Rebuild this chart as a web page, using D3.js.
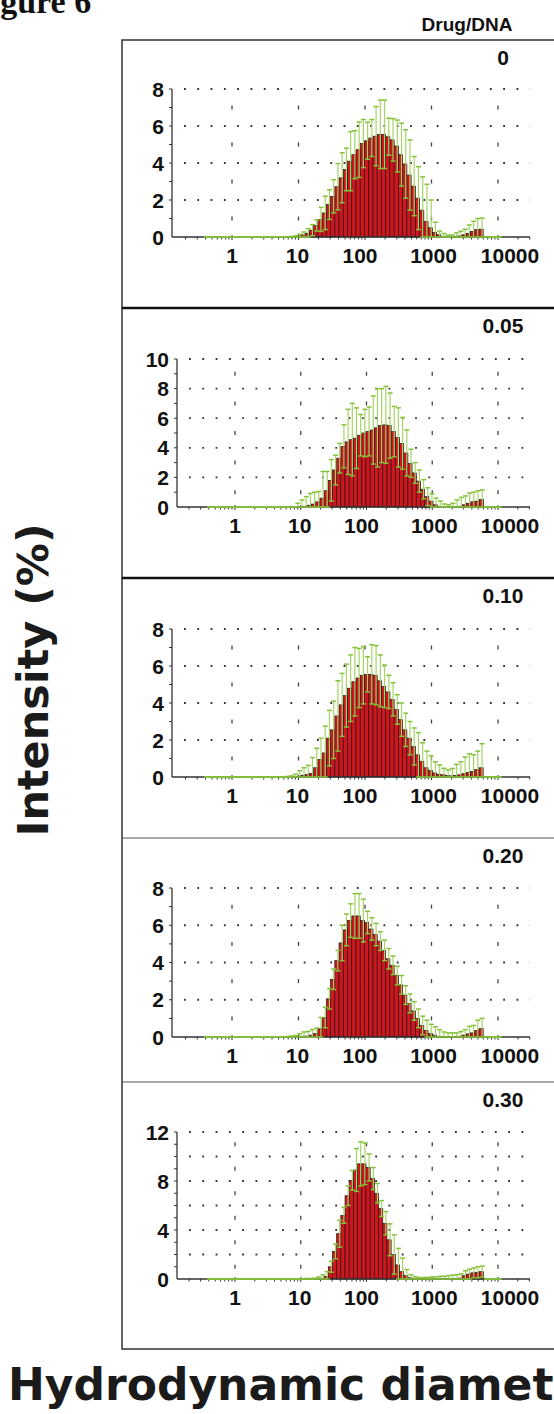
<!DOCTYPE html>
<html>
<head>
<meta charset="utf-8">
<script src="https://cdn.jsdelivr.net/npm/d3@7/dist/d3.min.js"></script>
<style>
body { margin: 0; background: #fff; overflow: hidden; }
text { font-family: "Liberation Sans", Arial, sans-serif; font-weight: bold; }
</style>
</head>
<body>
<svg id="fig" width="554" height="1414"></svg>
<script>
// size classes of the instrument (nm), 70 log-spaced bins
const sizes = [0.4, 0.4632, 0.5365, 0.6213, 0.7195, 0.8332, 0.9649, 1.117, 1.294, 1.499,
  1.736, 2.010, 2.328, 2.696, 3.122, 3.615, 4.187, 4.849, 5.615, 6.503,
  7.531, 8.721, 10.10, 11.70, 13.54, 15.69, 18.17, 21.04, 24.36, 28.21,
  32.67, 37.84, 43.82, 50.75, 58.77, 68.06, 78.82, 91.28, 105.7, 122.4,
  141.8, 164.2, 190.1, 220.2, 255.0, 295.3, 342.0, 396.1, 458.7, 531.2,
  615.1, 712.4, 825.0, 955.4, 1106, 1281, 1484, 1718, 1990, 2305,
  2669, 3091, 3580, 4145, 4801, 5560, 6439, 7456, 8635, 10000];

const ratios = ["0", "0.05", "0.10", "0.20", "0.30"];
const yMaxes = [8, 10, 8, 8, 12];
const yLabelSteps = [2, 2, 2, 2, 4];
const xTickValues = [1, 10, 100, 1000, 10000];

// mean intensity (%) per bin, bins 0-21 | 22-56 | 57-69 ...
const mean0 = [0,0,0,0,0,0,0,0,0,0,0,0,0,0,0,0,0,0,0,0,0,0,
  0.05,0.12,0.2,0.37,0.62,0.95,1.3,1.75,2.2,2.72,3.2,3.65,4.1,4.45,4.72,5.05,5.2,5.35,5.45,5.55,5.55,5.42,5.25,4.92,4.45,3.95,3.35,2.75,2.1,1.45,0.85,0.5,0.25,0.12,0.04,
  0,0.01,0.03,0.06,0.12,0.2,0.3,0.4,0.42,0,0,0,0];
const sd0 = [0,0,0,0,0,0,0,0,0,0,0,0,0,0,0,0,0,0,0,0,0.03,0.06,
  0.1,0.15,0.25,0.3,0.3,0.65,0.9,0.8,0.9,1.25,1.35,1.15,1.6,1.3,1.5,1.3,1.0,1.0,1.6,1.85,1.85,1.0,1.15,1.4,1.7,1.85,1.9,1.6,1.7,1.8,2.0,1.5,0.55,0.2,0.15,
  0.1,0.1,0.2,0.25,0.3,0.45,0.55,0.6,0.6,0,0,0,0];

const mean1 = [0,0,0,0,0,0,0,0,0,0,0,0,0,0,0,0,0,0,0,0,0,0,0.02,
  0.05,0.12,0.2,0.35,0.6,1.1,1.8,2.5,3.3,4.1,4.4,4.55,4.65,4.85,5.0,5.1,5.2,5.35,5.5,5.55,5.5,5.1,4.7,4.3,3.65,2.95,2.3,1.75,1.2,0.7,0.4,0.15,0.05,
  0,0,0,0.02,0.05,0.15,0.25,0.35,0.4,0.5,0,0,0,0];
const sd1 = [0,0,0,0,0,0,0,0,0,0,0,0,0,0,0,0,0,0,0,0,0,0.25,0.45,
  0.65,0.8,0.8,0.7,1.8,1.3,1.4,1.0,1.0,1.45,2.2,2.45,2.05,1.4,1.6,1.65,2.3,2.65,2.5,2.6,2.2,1.7,2.0,1.75,1.55,0.95,0.7,0.75,0.65,0.6,0.5,0.45,0.35,
  0.2,0.15,0.25,0.45,0.6,0.6,0.7,0.65,0.7,0.65,0,0,0,0];

const mean2 = [0,0,0,0,0,0,0,0,0,0,0,0,0,0,0,0,0,0,0,0,0,0.03,0.04,
  0.1,0.13,0.2,0.5,0.95,1.3,2.1,2.55,3.3,3.9,4.4,4.8,5.15,5.35,5.5,5.55,5.55,5.5,5.2,4.9,4.6,4.2,3.65,3.1,2.55,2.1,1.65,1.2,0.85,0.5,0.35,0.22,0.15,0.12,0.08,0.06,0.08,0.12,0.18,0.25,0.3,0.4,0.5,
  0,0,0,0];
const sd2 = [0,0,0,0,0,0,0,0,0,0,0,0,0,0,0,0,0,0,0,0.03,0.06,0.12,0.3,
  0.4,0.5,0.85,1.05,1.15,1.45,1.5,1.55,1.9,1.7,1.7,1.8,1.85,1.6,1.55,0.95,1.6,1.6,1.4,1.15,0.9,0.9,0.8,0.9,0.9,0.9,1.0,1.2,1.0,0.9,0.8,0.6,0.5,0.35,0.3,0.4,0.6,0.7,0.9,1.0,0.9,1.0,1.3,
  0,0,0,0];

const mean3 = [0,0,0,0,0,0,0,0,0,0,0,0,0,0,0,0,0,0,0,0,0,0,0.02,
  0.04,0.05,0.1,0.18,0.45,1.05,2.05,3.1,4.1,5.05,5.75,6.25,6.5,6.5,6.25,6.15,5.8,5.5,5.15,4.65,4.2,3.85,3.3,2.8,2.25,1.8,1.4,1.0,0.62,0.35,0.18,0.1,0.04,0.02,0.02,0.02,0.02,0.04,0.1,0.17,0.22,0.35,0.45,
  0,0,0,0];
const sd3 = [0,0,0,0,0,0,0,0,0,0,0,0,0,0,0,0,0,0,0,0.03,0.05,0.08,0.15,
  0.23,0.25,0.3,0.3,0.6,0.55,0.55,0.55,0.55,0.95,0.85,0.9,1.2,1.2,1.15,0.6,0.6,0.6,0.5,0.55,0.55,0.5,0.5,0.5,0.5,0.5,0.5,0.5,0.5,0.55,0.5,0.45,0.35,0.25,0.2,0.2,0.2,0.25,0.3,0.4,0.4,0.55,0.55,
  0,0,0,0];

const mean4 = [0,0,0,0,0,0,0,0,0,0,0,0,0,0,0,0,0,0,0,0,0,0,0,0,0,0,
  0.02,0.04,0.2,1.0,2.25,3.7,5.2,6.8,8.05,8.9,9.4,9.4,9.1,8.2,7.0,5.75,4.55,3.2,2.0,1.15,0.6,0.27,0.1,0.04,0.02,
  0.02,0.02,0.02,0.02,0.02,0.02,0.02,0.02,0.05,0.08,0.27,0.4,0.5,0.55,0.6,0,0,0,0];
const sd4 = [0,0,0,0,0,0,0,0,0,0,0,0,0,0,0,0,0,0,0,0,0,0,0.03,0.04,0.05,0.06,
  0.15,0.3,0.4,0.45,0.6,1.1,0.65,0.8,0.8,1.75,1.8,1.7,1.1,0.9,0.8,0.65,0.95,1.3,1.6,1.35,1.1,0.5,0.25,0.15,0.1,
  0.1,0.1,0.15,0.15,0.2,0.2,0.25,0.3,0.3,0.35,0.4,0.4,0.4,0.45,0.45,0,0,0,0];

const means = [mean0, mean1, mean2, mean3, mean4];
const sds = [sd0, sd1, sd2, sd3, sd4];

// layout (pixels)
const frameTops = [40, 308, 578, 838, 1082];
const frameBottom = 1349;
const zeroY = [237, 507, 777, 1037, 1279];
const topY = [89, 359, 629, 888, 1132];
const axisX = [172, 177, 172, 172, 177];
const oneX = [232, 235, 232, 232, 235];
const xLabelNudge = [0, -1, -5, 2, 12];
const xEnd = 530;

const red = "#d2141d";
const green = "#86c23a";
const stemGreen = "#a5d465";
const step = Math.sqrt(sizes[1] / sizes[0]);

const svg = d3.select("#fig");

// figure label, cut at the top-left as in the scan
svg.append("text")
  .attr("x", -30).attr("y", 13)
  .style("font-family", "'Liberation Serif', 'Times New Roman', serif")
  .style("font-size", "34px")
  .attr("fill", "#111")
  .text("Figure 6");

svg.append("text")
  .attr("x", 467).attr("y", 31)
  .attr("text-anchor", "middle")
  .style("font-size", "19px")
  .attr("fill", "#111")
  .text("Drug/DNA");

// outer frame and separators
svg.append("rect")
  .attr("x", 122).attr("y", 40)
  .attr("width", 500).attr("height", frameBottom - 40)
  .attr("fill", "none").attr("stroke", "#333").attr("stroke-width", 1.5);

svg.selectAll(".sep")
  .data(frameTops.slice(1))
  .join("line")
  .attr("x1", 122).attr("x2", 554)
  .attr("y1", d => d).attr("y2", d => d)
  .attr("stroke", (d, i) => i < 2 ? "#111" : "#555")
  .attr("stroke-width", (d, i) => i < 2 ? 2.5 : 1.2);

ratios.forEach((label, p) => {
  const mean = means[p], sd = sds[p], yMax = yMaxes[p];
  const x = d3.scaleLog().domain([1, 10000]).range([oneX[p], 498]);
  const y = d3.scaleLinear().domain([0, yMax]).range([zeroY[p], topY[p]]);
  const g = svg.append("g");

  g.append("text")
    .attr("x", 503).attr("y", frameTops[p] + 25)
    .attr("text-anchor", "middle")
    .style("font-size", "21px")
    .attr("fill", "#111")
    .text(label);

  // dotted horizontal grid
  g.selectAll(".hgrid")
    .data(d3.range(2, yMax + 0.01, 2))
    .join("line")
    .attr("x1", axisX[p] + 12).attr("x2", xEnd)
    .attr("y1", d => y(d)).attr("y2", d => y(d))
    .attr("stroke", "#333").attr("stroke-width", 1.8)
    .attr("stroke-dasharray", "1.8,11.5");

  // vertical grid: short dashes at each decade, midway between grid rows
  const vDash = [];
  xTickValues.forEach(v => d3.range(1, yMax, 2).forEach(k => vDash.push([v, k])));
  g.selectAll(".vgrid")
    .data(vDash)
    .join("line")
    .attr("x1", d => x(d[0])).attr("x2", d => x(d[0]))
    .attr("y1", d => y(d[1]) - 2).attr("y2", d => y(d[1]) + 2)
    .attr("stroke", "#444").attr("stroke-width", 1.3);

  // histogram bars
  const bins = sizes.map((s, i) => ({s, m: mean[i] || 0, e: sd[i] || 0}));
  g.selectAll(".bar")
    .data(bins.filter(d => d.m > 0))
    .join("rect")
    .attr("x", d => x(d.s / step))
    .attr("width", d => x(d.s * step) - x(d.s / step))
    .attr("y", d => y(d.m))
    .attr("height", d => y(0) - y(d.m))
    .attr("fill", red)
    .attr("stroke", "#1a1a1a").attr("stroke-width", 0.7);

  // axes
  g.append("line")
    .attr("x1", axisX[p]).attr("x2", xEnd)
    .attr("y1", y(0)).attr("y2", y(0))
    .attr("stroke", "#333").attr("stroke-width", 1.3);
  g.append("line")
    .attr("x1", axisX[p]).attr("x2", axisX[p])
    .attr("y1", y(0)).attr("y2", y(yMax))
    .attr("stroke", "#333").attr("stroke-width", 1.3);

  const minorX = [];
  [0.1, 1, 10, 100, 1000, 10000].forEach(dec => d3.range(2, 10).forEach(k => minorX.push(dec * k)));
  g.selectAll(".xminor")
    .data(minorX.filter(v => x(v) > axisX[p] && x(v) < xEnd))
    .join("line")
    .attr("x1", d => x(d)).attr("x2", d => x(d))
    .attr("y1", y(0)).attr("y2", y(0) + 2.5)
    .attr("stroke", "#333");
  g.selectAll(".xmajor")
    .data(xTickValues)
    .join("line")
    .attr("x1", d => x(d)).attr("x2", d => x(d))
    .attr("y1", y(0) - 2).attr("y2", y(0) + 3)
    .attr("stroke", "#333");

  g.selectAll(".yminor")
    .data(d3.range(1, yMax + 0.01, 1))
    .join("line")
    .attr("x1", axisX[p] - 3).attr("x2", axisX[p])
    .attr("y1", d => y(d)).attr("y2", d => y(d))
    .attr("stroke", "#333");

  g.selectAll(".xlab")
    .data(xTickValues)
    .join("text")
    .attr("x", (d, i) => x(d) + xLabelNudge[i]).attr("y", y(0) + 26)
    .attr("text-anchor", "middle")
    .style("font-size", "21px")
    .attr("fill", "#111")
    .text(d => d);

  g.selectAll(".ylab")
    .data(d3.range(0, yMax + 0.01, yLabelSteps[p]))
    .join("text")
    .attr("x", axisX[p] - 8).attr("y", d => y(d) + 7.5)
    .attr("text-anchor", "end")
    .style("font-size", "21px")
    .attr("fill", "#111")
    .text(d => d);

  // error bars (mean +/- sd)
  const eb = g.selectAll(".err").data(bins).join("g");
  eb.append("line")
    .attr("x1", d => x(d.s) + 1).attr("x2", d => x(d.s) + 1)
    .attr("y1", d => y(Math.max(0, d.m - d.e))).attr("y2", d => y(d.m + d.e))
    .attr("stroke", stemGreen).attr("stroke-width", 1.2);
  eb.append("line")
    .attr("x1", d => x(d.s) - 1.5).attr("x2", d => x(d.s) + 3.5)
    .attr("y1", d => y(d.m + d.e)).attr("y2", d => y(d.m + d.e))
    .attr("stroke", green).attr("stroke-width", 1.5);
  eb.append("line")
    .attr("x1", d => x(d.s) - 1.5).attr("x2", d => x(d.s) + 3.5)
    .attr("y1", d => y(Math.max(0, d.m - d.e))).attr("y2", d => y(Math.max(0, d.m - d.e)))
    .attr("stroke", green).attr("stroke-width", 1.5);
});

svg.append("text")
  .attr("transform", "translate(48,680) rotate(-90)")
  .attr("text-anchor", "middle")
  .style("font-family", "'DejaVu Sans', sans-serif")
  .style("font-size", "43px")
  .attr("fill", "#1b1b1b")
  .text("Intensity (%)");

svg.append("text")
  .attr("x", 8).attr("y", 1400)
  .style("font-family", "'DejaVu Sans', sans-serif")
  .style("font-size", "44px")
  .attr("fill", "#1b1b1b")
  .text("Hydrodynamic diameter (nm)");
</script>
</body>
</html>
